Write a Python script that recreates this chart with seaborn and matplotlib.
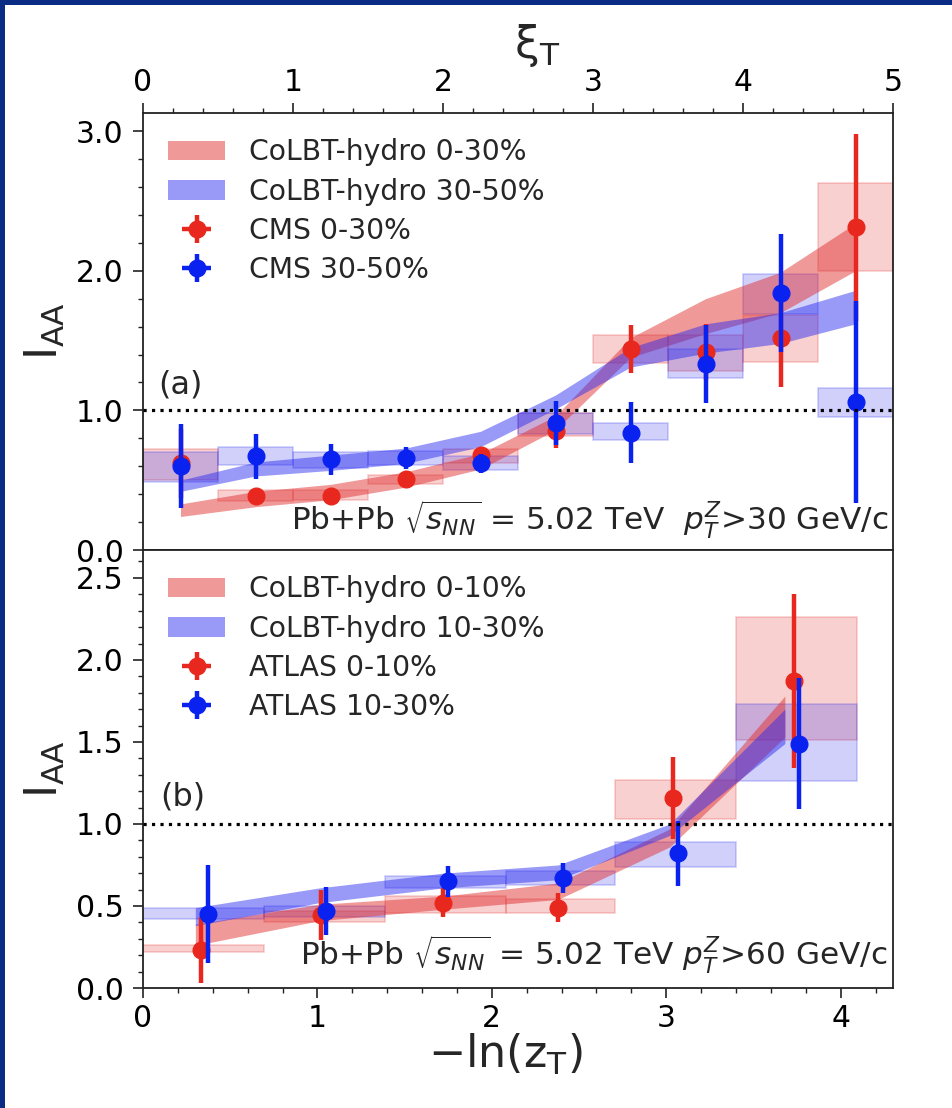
import matplotlib
matplotlib.use("Agg")
import matplotlib.pyplot as plt
from matplotlib.patches import Rectangle
from matplotlib.ticker import MultipleLocator, FormatStrFormatter
import seaborn as sns

# ---------------- panel (a): CMS, p_T^Z > 30 GeV/c, binned in xi_T ----------------
xi_bin_edges = [0.0, 0.5, 1.0, 1.5, 2.0, 2.5, 3.0, 3.5, 4.0, 4.5, 5.0]
xi_centers = [0.25, 0.75, 1.25, 1.75, 2.25, 2.75, 3.25, 3.75, 4.25, 4.75]

cms_0_30 = [0.62, 0.39, 0.39, 0.51, 0.68, 0.85, 1.44, 1.42, 1.52, 2.31]
cms_0_30_stat = [0.25, 0.05, 0.04, 0.05, 0.06, 0.12, 0.17, 0.20, 0.35, 0.67]
cms_0_30_sys_lo = [0.50, 0.35, 0.36, 0.47, 0.62, 0.82, 1.34, 1.28, 1.35, 2.00]
cms_0_30_sys_hi = [0.72, 0.43, 0.43, 0.54, 0.72, 0.98, 1.54, 1.54, 1.68, 2.63]

cms_30_50 = [0.60, 0.67, 0.65, 0.66, 0.62, 0.91, 0.84, 1.33, 1.84, 1.06]
cms_30_50_stat = [0.30, 0.16, 0.11, 0.08, 0.07, 0.16, 0.22, 0.28, 0.42, 0.72]
cms_30_50_sys_lo = [0.49, 0.61, 0.59, 0.61, 0.57, 0.83, 0.79, 1.23, 1.69, 0.95]
cms_30_50_sys_hi = [0.70, 0.74, 0.70, 0.71, 0.67, 0.98, 0.91, 1.44, 1.98, 1.16]

colbt_a_x = [0.25, 0.75, 1.25, 1.75, 2.25, 2.75, 3.25, 3.75, 4.25, 4.75]
colbt_0_30_lo = [0.24, 0.31, 0.36, 0.45, 0.58, 0.86, 1.38, 1.55, 1.70, 2.00]
colbt_0_30_hi = [0.33, 0.42, 0.47, 0.56, 0.69, 0.96, 1.52, 1.80, 1.99, 2.34]
colbt_30_50_lo = [0.42, 0.53, 0.57, 0.62, 0.74, 1.01, 1.31, 1.41, 1.48, 1.62]
colbt_30_50_hi = [0.50, 0.63, 0.68, 0.73, 0.85, 1.11, 1.45, 1.62, 1.70, 1.86]

# ---------------- panel (b): ATLAS, p_T^Z > 60 GeV/c, binned in -ln(z_T) ----------------
zt_bin_edges = [0.0, 0.693, 1.386, 2.079, 2.708, 3.401, 4.094]
atlas_0_10_x = [0.33, 1.02, 1.72, 2.38, 3.04, 3.73]
atlas_0_10 = [0.23, 0.445, 0.52, 0.49, 1.16, 1.87]
atlas_0_10_stat = [0.20, 0.15, 0.09, 0.09, 0.25, 0.53]
atlas_0_10_sys_lo = [0.22, 0.40, 0.46, 0.455, 1.03, 1.51]
atlas_0_10_sys_hi = [0.26, 0.47, 0.56, 0.54, 1.27, 2.26]

atlas_10_30_x = [0.37, 1.05, 1.75, 2.41, 3.07, 3.76]
atlas_10_30 = [0.45, 0.47, 0.65, 0.67, 0.82, 1.49]
atlas_10_30_stat = [0.30, 0.145, 0.095, 0.09, 0.20, 0.40]
atlas_10_30_sys_lo = [0.42, 0.43, 0.61, 0.63, 0.74, 1.26]
atlas_10_30_sys_hi = [0.49, 0.50, 0.68, 0.715, 0.89, 1.73]

colbt_b_x = [0.30, 1.01, 1.72, 2.38, 3.02, 3.68]
colbt_0_10_lo = [0.26, 0.41, 0.48, 0.54, 0.86, 1.53]
colbt_0_10_hi = [0.39, 0.51, 0.56, 0.64, 0.97, 1.78]
colbt_10_30_lo = [0.38, 0.52, 0.61, 0.66, 0.93, 1.49]
colbt_10_30_hi = [0.49, 0.61, 0.70, 0.75, 1.00, 1.70]

RED = "#e8281e"
BLUE = "#0a22f0"
BAND_RED = "#e02a2a"
BAND_BLUE = "#2a2af0"
NAVY = "#0b2c84"

sns.set_style("ticks")
plt.rcParams["font.family"] = ["DejaVu Sans"]
plt.rcParams["mathtext.fontset"] = "dejavusans"

W, H = 952, 1108
fig = plt.figure(figsize=(W / 100, H / 100), dpi=100)
fig.patch.set_facecolor("white")
ax_a = fig.add_axes([143 / W, 1 - 550 / H, 750 / W, 437 / H])
ax_b = fig.add_axes([143 / W, 1 - 988 / H, 750 / W, 438 / H])

# slide frame strips
fig.patches.append(Rectangle((0, 0), 5 / W, 1, transform=fig.transFigure,
                             facecolor=NAVY, edgecolor="none", zorder=10))
fig.patches.append(Rectangle((0, 1 - 5 / H), 1, 5 / H, transform=fig.transFigure,
                             facecolor=NAVY, edgecolor="none", zorder=10))


def sys_boxes(ax, edges, lo, hi, color):
    for x0, x1, a, b in zip(edges[:-1], edges[1:], lo, hi):
        ax.add_patch(Rectangle((x0, a), x1 - x0, b - a, facecolor=color,
                               edgecolor=color, alpha=0.22, lw=1.2, zorder=1))


def points(ax, x, y, err, color, label, z):
    return ax.errorbar(x, y, yerr=err, xerr=[0] * len(x), fmt="o", color=color,
                       ms=12, elinewidth=3.2, capsize=0, label=label, zorder=z)


def panel(ax, edges, r_x, r_y, r_err, r_lo, r_hi, b_x, b_y, b_err, b_lo, b_hi,
          th_x, th_r_lo, th_r_hi, th_b_lo, th_b_hi, labels):
    sys_boxes(ax, edges, r_lo, r_hi, BAND_RED)
    sys_boxes(ax, edges, b_lo, b_hi, BAND_BLUE)
    h1 = ax.fill_between(th_x, th_r_lo, th_r_hi, color=BAND_RED, alpha=0.48,
                         lw=0, zorder=2, label=labels[0])
    h2 = ax.fill_between(th_x, th_b_lo, th_b_hi, color=BAND_BLUE, alpha=0.48,
                         lw=0, zorder=2, label=labels[1])
    h3 = points(ax, r_x, r_y, r_err, RED, labels[2], 3)
    h4 = points(ax, b_x, b_y, b_err, BLUE, labels[3], 4)
    ax.axhline(1.0, color="black", ls=":", lw=2.3, zorder=5)
    ax.legend(handles=[h1, h2, h3, h4], loc="upper left", frameon=False,
              fontsize=20.3, labelspacing=0.40, handlelength=2.0,
              handletextpad=0.85, borderaxespad=0.5)


panel(ax_a, xi_bin_edges, xi_centers, cms_0_30, cms_0_30_stat, cms_0_30_sys_lo,
      cms_0_30_sys_hi, xi_centers, cms_30_50, cms_30_50_stat, cms_30_50_sys_lo,
      cms_30_50_sys_hi, colbt_a_x, colbt_0_30_lo, colbt_0_30_hi, colbt_30_50_lo,
      colbt_30_50_hi,
      ["CoLBT-hydro 0-30%", "CoLBT-hydro 30-50%", "CMS 0-30%", "CMS 30-50%"])

panel(ax_b, zt_bin_edges, atlas_0_10_x, atlas_0_10, atlas_0_10_stat,
      atlas_0_10_sys_lo, atlas_0_10_sys_hi, atlas_10_30_x, atlas_10_30,
      atlas_10_30_stat, atlas_10_30_sys_lo, atlas_10_30_sys_hi, colbt_b_x,
      colbt_0_10_lo, colbt_0_10_hi, colbt_10_30_lo, colbt_10_30_hi,
      ["CoLBT-hydro 0-10%", "CoLBT-hydro 10-30%", "ATLAS 0-10%", "ATLAS 10-30%"])

# axes ranges, ticks and labels
ax_a.set_xlim(0, 5)
ax_a.set_ylim(0, 3.13)
ax_b.set_xlim(0, 4.3)
ax_b.set_ylim(0, 2.67)

for ax in (ax_a, ax_b):
    for side in ("left", "right", "top", "bottom"):
        ax.spines[side].set_visible(True)
        ax.spines[side].set_linewidth(1.3)
        ax.spines[side].set_color("#222222")
    ax.tick_params(which="major", direction="out", length=7, width=1.2,
                   labelsize=21.5, pad=4.5, colors="#222222", labelcolor="black")
    ax.tick_params(which="minor", direction="out", length=3.3, width=1.0,
                   colors="#222222")
    ax.tick_params(axis="y", which="major", pad=7)
    ax.xaxis.set_major_locator(MultipleLocator(1))
    ax.xaxis.set_minor_locator(MultipleLocator(0.2))
    ax.yaxis.set_major_formatter(FormatStrFormatter("%.1f"))
    ax.set_ylabel(r"I$_{\mathrm{AA}}$", fontsize=32)
    ax.yaxis.set_label_coords(-0.101, 0.5)

ax_a.yaxis.set_major_locator(MultipleLocator(1.0))
ax_a.yaxis.set_minor_locator(MultipleLocator(0.2))
ax_b.yaxis.set_major_locator(MultipleLocator(0.5))
ax_b.yaxis.set_minor_locator(MultipleLocator(0.1))

ax_a.xaxis.tick_top()
ax_a.xaxis.set_label_position("top")
ax_a.set_xlabel(r"ξ$_{\mathrm{T}}$", fontsize=32)
ax_a.xaxis.set_label_coords(0.525, 1.127)
ax_b.set_xlabel(r"−ln(z$_{\mathrm{T}}$)", fontsize=32)
ax_b.xaxis.set_label_coords(0.483, -0.1)

ax_a.text(0.1, 1.12, "(a)", fontsize=23, va="baseline", ha="left")
ax_b.text(0.1, 1.11, "(b)", fontsize=23, va="baseline", ha="left")
ax_a.text(0.993, 0.0435, r"Pb+Pb $\sqrt{s_{NN}}$ = 5.02 TeV  $p_T^Z$>30 GeV/c",
          transform=ax_a.transAxes, ha="right", va="baseline", fontsize=22.4)
ax_b.text(0.993, 0.0525, r"Pb+Pb $\sqrt{s_{NN}}$ = 5.02 TeV $p_T^Z$>60 GeV/c",
          transform=ax_b.transAxes, ha="right", va="baseline", fontsize=22.4)

fig.savefig("out.png", dpi=100, facecolor="white")
